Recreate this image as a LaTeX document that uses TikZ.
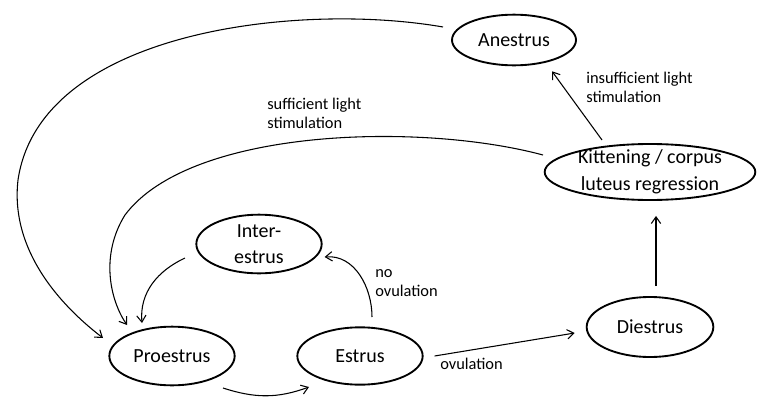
\documentclass[tikz,border=0pt]{standalone}
\usepackage{fontspec}
\setmainfont{Carlito}
\usepackage{tikz}
\usetikzlibrary{shapes.geometric,arrows.meta,positioning,calc}

\begin{document}
\begin{tikzpicture}[
    x=0.75pt, y=-0.75pt,
    state/.style={ellipse, draw, line width=1.4pt, inner sep=0pt, align=center, font=\fontsize{15}{20}\selectfont},
    arrow/.style={-{Straight Barb[length=5pt,width=7pt]}, line width=0.8pt},
    lbl/.style={align=left, anchor=north west, inner sep=0pt, font=\fontsize{12.3}{14.5}\selectfont}
]
\useasboundingbox (0,0) rectangle (757,400);

% States
\node[state, minimum width=93pt, minimum height=38pt] (anes) at (514, 40) {Anestrus};
\node[state, minimum width=158pt, minimum height=42pt, inner ysep=-9pt] (kitt) at (650, 172) {Kittening / corpus\\luteus regression};
\node[state, minimum width=94pt, minimum height=44pt, inner ysep=-6pt] (inter) at (259, 244) {Inter-\\estrus};
\node[state, minimum width=94pt, minimum height=44pt] (pro) at (172, 356) {Proestrus};
\node[state, minimum width=94pt, minimum height=43pt] (est) at (360, 356) {Estrus};
\node[state, minimum width=95pt, minimum height=45pt] (die) at (650, 327) {Diestrus};

% Arrow end points
\coordinate (a1) at (443, 27);
\coordinate (k1) at (543, 155);
\coordinate (k2) at (602, 140);
\coordinate (i1) at (185, 258);
\coordinate (p1) at (223, 388);
\coordinate (e1) at (309, 387);
\coordinate (e2) at (372, 317);

% Arrows back to proestrus
\draw[arrow] (a1) .. controls (300, 2) and (40, 30) .. (18, 180)
    .. controls (10, 250) and (60, 305) .. (103, 338);
\draw[arrow] (k1) .. controls (420, 122) and (190, 128) .. (125, 215)
    .. controls (100, 255) and (110, 300) .. (127, 325);
\draw[arrow] (i1) to[out=205, in=95] (142, 323);

% Cycle
\draw[arrow] (p1) to[out=-18, in=200] (e1);
\draw[arrow] (e2) to[out=90, in=5] ($(inter.east)+(2, 13)$);
\draw[arrow] (est.east) ++(11, 0) -- ($(die.west)+(-11, 6)$);
\draw[arrow] (die.north) ++(6, -10) -- ($(kitt.south)+(6, 15)$);
\draw[arrow] (k2) -- ($(anes.south)+(38, 5)$);

% Labels
\node[lbl] (l1) at (267, 98) {sufficient light\\stimulation};
\node[lbl] (l2) at (586, 72) {insufficient light\\stimulation};
\node[lbl] (l3) at (375, 269) {no\\ovulation};
\node[lbl] (l4) at (440, 358) {ovulation};

\end{tikzpicture}
\end{document}
